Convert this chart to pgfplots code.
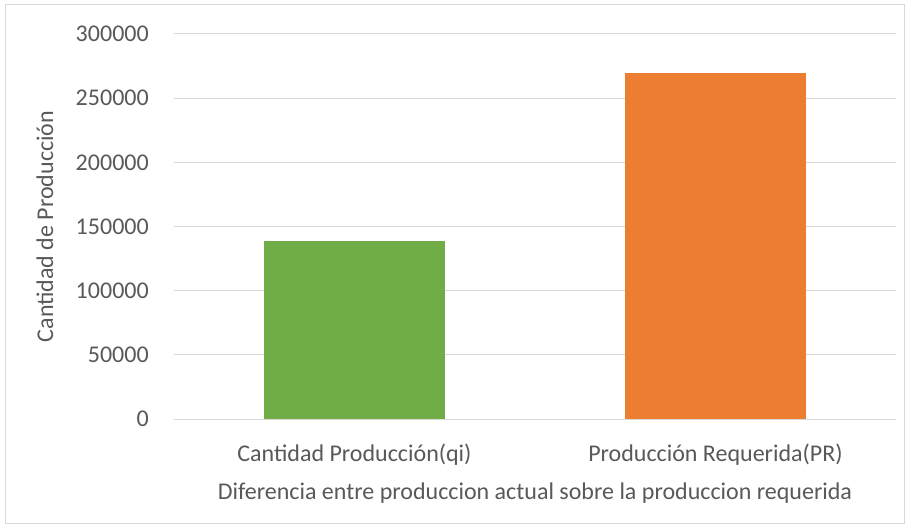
\documentclass[border=0pt]{standalone}
\usepackage{pgfplots}
\pgfplotsset{compat=1.18}
\usepackage{fontspec}
\setmainfont{Carlito}
\definecolor{txt}{HTML}{595959}
\definecolor{gridc}{HTML}{D9D9D9}
\definecolor{bgreen}{HTML}{70AD47}
\definecolor{borange}{HTML}{ED7D31}
\begin{document}
\begin{tikzpicture}
\fill[white] (0,0) rectangle (681.75pt,396pt);
\draw[gridc, line width=0.75pt] (3.75pt,3.75pt) rectangle (678pt,392.25pt);
\begin{axis}[
  at={(130.5pt,81.75pt)}, anchor=south west,
  scale only axis, width=541.5pt, height=288.75pt,
  xmin=-0.5, xmax=1.5, ymin=0, ymax=300000,
  ytick={0,50000,...,300000},
  xtick={0,1},
  xticklabels={Cantidad Producción(qi), Producción Requerida(PR)},
  scaled y ticks=false,
  /pgf/number format/assume math mode=true,
  yticklabel={\pgfmathprintnumber[fixed,1000 sep={}]{\tick}},
  font=\fontsize{18}{21.6}\selectfont,
  every tick label/.append style={text=txt},
  yticklabel style={anchor=east, inner sep=0pt, xshift=-18.75pt},
  xticklabel style={anchor=base, inner sep=0pt, yshift=-31.5pt},
  major tick length=0pt,
  axis line style={draw=none},
  ymajorgrids, major grid style={draw=gridc, line width=0.75pt},
  xlabel={Diferencia entre produccion actual sobre la produccion requerida},
  xlabel style={at={(axis description cs:0.5,0)}, anchor=base, inner sep=0pt, yshift=-60pt, text=txt},
  ylabel={Cantidad de Producción},
  ylabel style={at={(axis description cs:0,0.5)}, anchor=center, inner sep=0pt, yshift=96.75pt, text=txt},
  ybar, bar width=0.5, bar shift=0pt,
  clip=false,
]
\addplot[fill=bgreen, draw=none] coordinates {(0,138700)};
\addplot[fill=borange, draw=none] coordinates {(1,269600)};
\end{axis}
\end{tikzpicture}
\end{document}
